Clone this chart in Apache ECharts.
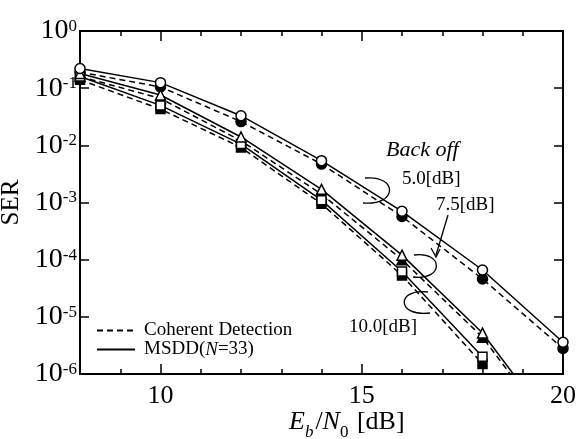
<!DOCTYPE html>
<html>
<head>
<meta charset="utf-8">
<script src="https://cdn.jsdelivr.net/npm/echarts@6/dist/echarts.min.js"></script>
<style>
  html, body { margin: 0; padding: 0; background: #fff; }
  #chart { width: 579px; height: 439px; }
</style>
</head>
<body>
<div id="chart"></div>
<script>
// Eb/N0 sample points [dB]
const ebn0 = [8, 10, 12, 14, 16, 18, 20];

// Symbol error rate, back off 5.0 dB
const msdd5 = [0.22, 0.125, 0.033, 0.0054, 0.00070, 6.6e-5, 3.6e-6];
const coh5  = [0.19, 0.105, 0.026, 0.0047, 0.00057, 4.6e-5, 2.8e-6];

// Back off 7.5 dB (last point falls below the plotted range)
const msdd75 = [0.18, 0.076, 0.0140, 0.00170, 0.000120, 5.2e-6, 7e-8];
const coh75  = [0.16, 0.066, 0.0120, 0.00140, 0.000100, 4.4e-6, 6e-8];

// Back off 10.0 dB
const msdd10 = [0.16, 0.050, 0.0105, 0.00110, 6.2e-5, 2.0e-6];
const coh10  = [0.14, 0.043, 0.0092, 0.00095, 5.3e-5, 1.5e-6];

// Axis tick labels
const xTickLabels = [10, 15, 20];
const yExponents = [0, -1, -2, -3, -4, -5, -6];

const FONT = '"Liberation Serif", "DejaVu Serif", serif';

function pairs(ys) { return ys.map((y, i) => [ebn0[i], y]); }

function curve(name, ys, dashed, symbol, filled, size) {
  return {
    name: name,
    type: 'line',
    data: pairs(ys),
    symbol: symbol,
    symbolSize: size,
    showSymbol: true,
    clip: true,
    z: dashed ? 2 : 3,
    lineStyle: { color: '#000', width: 1.5, type: dashed ? [6, 4] : 'solid' },
    itemStyle: { color: filled ? '#000' : '#fff', borderColor: '#000', borderWidth: 1.5 },
    emphasis: { disabled: true },
    animation: false
  };
}

function legendKey(name, dashed) {
  return {
    name: name, type: 'line', data: [], symbol: 'none',
    lineStyle: { color: '#000', width: 1.5, type: dashed ? [6, 4] : 'solid' },
    itemStyle: { color: 'rgba(0,0,0,0)', borderColor: 'rgba(0,0,0,0)', borderWidth: 0 }
  };
}

const chart = echarts.init(document.getElementById('chart'), null, { renderer: 'canvas' });

const xBase = {
  type: 'value', min: 8, max: 20, interval: 1,
  splitLine: { show: false },
  axisLine: { show: true, lineStyle: { color: '#000', width: 2 } }
};

const option = {
  backgroundColor: '#fff',
  animation: false,
  grid: { left: 80, right: 16, top: 31, bottom: 65, containLabel: false, outerBoundsMode: 'none' },
  legend: {
    data: ['Coherent Detection', 'MSDD(N=33)'],
    orient: 'vertical',
    left: 91, top: 316,
    itemWidth: 38, itemHeight: 12, itemGap: 0,
    selectedMode: false,
    itemStyle: { opacity: 0 },
    formatter: n => n === 'MSDD(N=33)' ? 'MSDD({i|N}=33)' : n,
    textStyle: {
      fontFamily: FONT, fontSize: 19, color: '#000', lineHeight: 19,
      padding: [0, 0, 0, 4],
      rich: { i: { fontFamily: FONT, fontSize: 19, fontStyle: 'italic', color: '#000' } }
    }
  },
  xAxis: [
    Object.assign({}, xBase, {
      position: 'bottom',
      axisTick: { show: true, inside: true, length: 5, lineStyle: { color: '#000', width: 1.5 } },
      axisLabel: {
        margin: 9, fontFamily: FONT, fontSize: 26, color: '#000',
        formatter: v => xTickLabels.indexOf(v) >= 0 ? String(v) : ''
      }
    }),
    Object.assign({}, xBase, {
      position: 'bottom',
      axisTick: { show: true, inside: true, length: 10, customValues: xTickLabels, lineStyle: { color: '#000', width: 1.5 } },
      axisLabel: { show: false }
    }),
    Object.assign({}, xBase, {
      position: 'top',
      axisTick: { show: true, inside: true, length: 5, lineStyle: { color: '#000', width: 1.5 } },
      axisLabel: { show: false }
    }),
    Object.assign({}, xBase, {
      position: 'top',
      axisTick: { show: true, inside: true, length: 10, customValues: xTickLabels, lineStyle: { color: '#000', width: 1.5 } },
      axisLabel: { show: false }
    })
  ],
  yAxis: [
    {
      type: 'log', logBase: 10, min: 1e-6, max: 1, position: 'left',
      name: 'SER', nameLocation: 'middle', nameGap: 43, nameRotate: 90,
      nameTextStyle: { fontFamily: FONT, fontSize: 25, color: '#000' },
      splitLine: { show: false },
      axisLine: { show: true, lineStyle: { color: '#000', width: 2 } },
      axisTick: { show: true, inside: true, length: 9, lineStyle: { color: '#000', width: 1.5 } },
      minorTick: { show: false },
      axisLabel: {
        margin: 3,
        formatter: v => {
          const e = Math.round(Math.log10(v));
          return yExponents.indexOf(e) >= 0 ? '{b|10}{s|' + e + '}' : '';
        },
        rich: {
          b: { fontFamily: FONT, fontSize: 28, color: '#000', lineHeight: 26 },
          s: { fontFamily: FONT, fontSize: 17, color: '#000', verticalAlign: 'top', lineHeight: 26 }
        }
      }
    },
    {
      type: 'log', logBase: 10, min: 1e-6, max: 1, position: 'right',
      splitLine: { show: false },
      axisLine: { show: true, lineStyle: { color: '#000', width: 2 } },
      axisTick: { show: true, inside: true, length: 9, lineStyle: { color: '#000', width: 1.5 } },
      axisLabel: { show: false }
    }
  ],
  series: [
    legendKey('Coherent Detection', true),
    legendKey('MSDD(N=33)', false),
    // coherent detection (filled markers, dashed)
    curve('coh10', coh10, true, 'rect', true, 9),
    curve('coh75', coh75, true, 'triangle', true, 10),
    curve('coh5', coh5, true, 'circle', true, 10),
    // MSDD (open markers, solid)
    curve('msdd10', msdd10, false, 'rect', false, 9),
    curve('msdd75', msdd75, false, 'triangle', false, 10),
    curve('msdd5', msdd5, false, 'circle', false, 10)
  ],
  graphic: [
    { type: 'text', left: 386, top: 139, z: 10,
      style: { text: 'Back off', font: 'italic 22px ' + FONT, fill: '#000' } },
    { type: 'text', left: 402, top: 170, z: 10,
      style: { text: '5.0[dB]', font: '19px ' + FONT, fill: '#000' } },
    { type: 'text', left: 436, top: 196, z: 10,
      style: { text: '7.5[dB]', font: '19px ' + FONT, fill: '#000' } },
    { type: 'text', left: 349, top: 318, z: 10,
      style: { text: '10.0[dB]', font: '19px ' + FONT, fill: '#000' } },
    // brackets tying each label to its pair of curves
    { type: 'bezierCurve', z: 10,
      shape: { x1: 365, y1: 178, cpx1: 398, cpy1: 175, cpx2: 398, cpy2: 206, x2: 363, y2: 203 },
      style: { stroke: '#000', lineWidth: 1.3, fill: null } },
    { type: 'bezierCurve', z: 10,
      shape: { x1: 414, y1: 255, cpx1: 444, cpy1: 251, cpx2: 444, cpy2: 281, x2: 413, y2: 277 },
      style: { stroke: '#000', lineWidth: 1.3, fill: null } },
    { type: 'bezierCurve', z: 10,
      shape: { x1: 428, y1: 292, cpx1: 396, cpy1: 288, cpx2: 396, cpy2: 317, x2: 430, y2: 313 },
      style: { stroke: '#000', lineWidth: 1.3, fill: null } },
    { type: 'line', z: 10,
      shape: { x1: 448, y1: 215, x2: 436, y2: 255 },
      style: { stroke: '#000', lineWidth: 1.3 } },
    { type: 'polyline', z: 10,
      shape: { points: [[431, 248], [436, 257], [440, 249]] },
      style: { stroke: '#000', lineWidth: 1.3, fill: null } },
    // x-axis title
    { type: 'text', left: 289, top: 409, z: 10,
      style: {
        text: '{i|E}{sub|b}{n|/}{i|N}{sub0|0}{n| [dB]}',
        rich: {
          i: { font: 'italic 26px ' + FONT, fill: '#000', lineHeight: 28, verticalAlign: 'bottom' },
          n: { font: '26px ' + FONT, fill: '#000', lineHeight: 28, verticalAlign: 'bottom' },
          sub: { font: 'italic 17px ' + FONT, fill: '#000', lineHeight: 28, verticalAlign: 'bottom', padding: [0, 2, -6, 0] },
          sub0: { font: '17px ' + FONT, fill: '#000', lineHeight: 28, verticalAlign: 'bottom', padding: [0, 2, -6, 0] }
        }
      } }
  ]
};

chart.setOption(option);
</script>
</body>
</html>
